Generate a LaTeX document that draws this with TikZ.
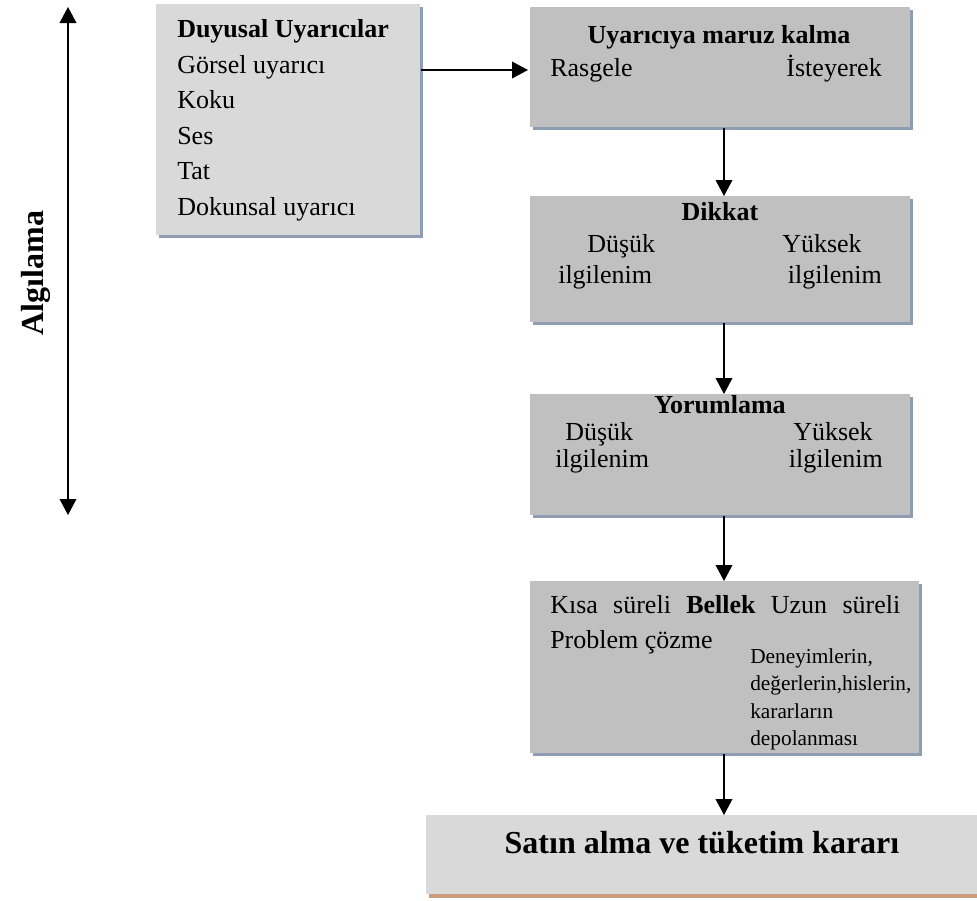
\documentclass[tikz,border=0pt]{standalone}
\usepackage{fontspec}
\setmainfont{Liberation Serif}
\usetikzlibrary{arrows.meta,shadows}
\definecolor{boxA}{HTML}{D9D9D9}
\definecolor{boxB}{HTML}{C0C0C0}
\definecolor{shd}{HTML}{8E9DB4}
\definecolor{brn}{HTML}{C99C7B}
\tikzset{
  box/.style={draw=none, inner sep=0pt, anchor=north west,
    general shadow={fill=shd, shadow xshift=2.25pt, shadow yshift=-2.25pt}},
  txt/.style={inner sep=0pt, font=\fontsize{19.5}{23}\selectfont},
  small/.style={inner sep=0pt, font=\fontsize{16}{19}\selectfont},
  big/.style={inner sep=0pt, font=\fontsize{24}{28}\selectfont\bfseries},
  arr/.style={line width=1.1pt, -{Triangle[length=12pt,width=12.5pt]}},
  darr/.style={line width=1.1pt, {Triangle[length=12pt,width=12.5pt]}-{Triangle[length=12pt,width=12.5pt]}}
}
\begin{document}
\begin{tikzpicture}[x=0.75pt,y=-0.75pt]
\useasboundingbox (0,0) rectangle (977,900);
\clip (0,0) rectangle (977,900);
% boxes
\node[box, fill=boxA, minimum width=198pt, minimum height=173.25pt] (b1) at (156,4) {};
\node[box, fill=boxB, minimum width=285pt, minimum height=90pt] (b2) at (530,7) {};
\node[box, fill=boxB, minimum width=285pt, minimum height=94.5pt] (b3) at (530,196) {};
\node[box, fill=boxB, minimum width=285pt, minimum height=90.75pt] (b4) at (530,394) {};
\node[box, fill=boxB, minimum width=291.75pt, minimum height=129pt] (b5) at (530,581) {};
\node[box, fill=boxA, minimum width=419.25pt, minimum height=59.25pt,
  general shadow={fill=brn, shadow xshift=2.25pt, shadow yshift=-3pt}] (b6) at (426,815) {};
% box 1 text
\node[txt, anchor=base west, font=\fontsize{19.5}{23}\selectfont\bfseries] (t1a) at (177,37) {Duyusal Uyarıcılar};
\node[txt, anchor=base west] (t1b) at (177,73) {Görsel uyarıcı};
\node[txt, anchor=base west] (t1c) at (177,108.5) {Koku};
\node[txt, anchor=base west] (t1d) at (177,144) {Ses};
\node[txt, anchor=base west] (t1e) at (177,179.5) {Tat};
\node[txt, anchor=base west] (t1f) at (177,215) {Dokunsal uyarıcı};
% box 2 text
\node[txt, anchor=base, font=\fontsize{19.5}{23}\selectfont\bfseries] (t2a) at (719,43) {Uyarıcıya maruz kalma};
\node[txt, anchor=base west] (t2b) at (550,76) {Rasgele};
\node[txt, anchor=base east] (t2c) at (882,76) {İsteyerek};
% box 3 text
\node[txt, anchor=base, font=\fontsize{19.5}{23}\selectfont\bfseries] (t3a) at (720,220) {Dikkat};
\node[txt, anchor=base west] (t3b) at (587,252) {Düşük};
\node[txt, anchor=base west] (t3c) at (558,283) {ilgilenim};
\node[txt, anchor=base west] (t3d) at (782,252) {Yüksek};
\node[txt, anchor=base east] (t3e) at (882,283) {ilgilenim};
% box 4 text
\node[txt, anchor=base, font=\fontsize{19.5}{23}\selectfont\bfseries] (t4a) at (720,413) {Yorumlama};
\node[txt, anchor=base west] (t4b) at (565,440) {Düşük};
\node[txt, anchor=base west] (t4c) at (555,467) {ilgilenim};
\node[txt, anchor=base east] (t4d) at (873,440) {Yüksek};
\node[txt, anchor=base east] (t4e) at (883,467) {ilgilenim};
% box 5 text
\node[txt, anchor=base west] (t5a) at (550,613) {\makebox[262.5pt][s]{Kısa süreli \textbf{Bellek} Uzun süreli}};
\node[txt, anchor=base west] (t5b) at (550,648) {Problem çözme};
\node[small, anchor=base west] (t5c) at (750,663) {Deneyimlerin,};
\node[small, anchor=base west] (t5d) at (750,690) {değerlerin,hislerin,};
\node[small, anchor=base west] (t5e) at (750,718) {kararların};
\node[small, anchor=base west] (t5f) at (750,745) {depolanması};
% bottom text
\node[big, anchor=base] (t6) at (702,853) {Satın alma ve tüketim kararı};
% side label
\node[big, anchor=base, rotate=90] (alg) at (43,273) {Algılama};
% connectors
\coordinate (la) at (68,7);
\coordinate (lb) at (68,515);
\draw[darr] (la) -- (lb);
\coordinate (ya) at (0,70);
\draw[arr] (b1.east |- ya) -- ([xshift=-1.5pt]b2.west |- ya);
\coordinate (xa) at (724,0);
\draw[arr] (b2.south -| xa) -- (b3.north -| xa);
\draw[arr] (b3.south -| xa) -- (b4.north -| xa);
\draw[arr] (b4.south -| xa) -- (b5.north -| xa);
\draw[arr] (b5.south -| xa) -- (b6.north -| xa);
\end{tikzpicture}
\end{document}
